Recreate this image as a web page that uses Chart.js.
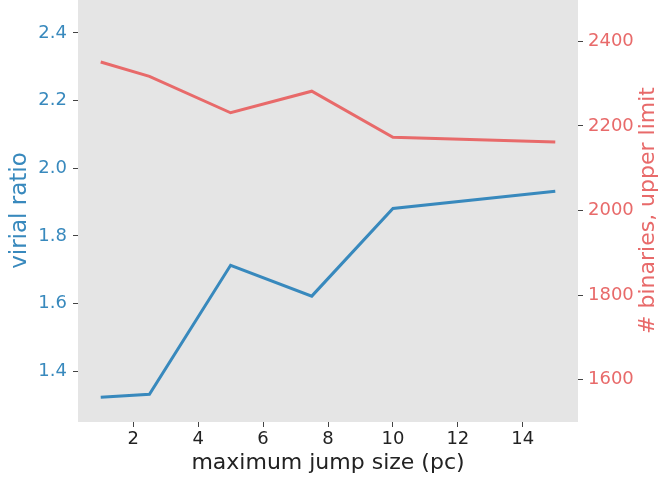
<!DOCTYPE html>
<html>
<head>
<meta charset="utf-8">
<script src="https://cdn.jsdelivr.net/npm/chart.js@4"></script>
<style>
  html, body { margin: 0; padding: 0; background: #fff; overflow: hidden; }
  #wrap { position: relative; width: 659px; height: 483px; overflow: hidden; }
  #chart { position: absolute; left: 0; top: -20px; }
</style>
</head>
<body>
<div id="wrap"><canvas id="chart" width="659" height="503"></canvas></div>
<script>
// values
const jumpSize = [1, 2.5, 5, 7.5, 10, 15];
const virialRatio = [1.323, 1.332, 1.713, 1.622, 1.881, 1.932];
const binariesUpper = [2351, 2317, 2231, 2282, 2173, 2162];

const xTicks = [2, 4, 6, 8, 10, 12, 14];
const virialTicks = [1.4, 1.6, 1.8, 2.0, 2.2, 2.4];
const binaryTicks = [1600, 1800, 2000, 2200, 2400];

const blue = '#3889BD';
const red = '#E86A6A';
const font = "'DejaVu Sans', sans-serif";

const plotBg = {
    id: 'plotBg',
    beforeDraw(chart) {
        const { ctx, chartArea: a } = chart;
        ctx.save();
        ctx.fillStyle = '#E5E5E5';
        ctx.fillRect(a.left, a.top, a.right - a.left, a.bottom - a.top);
        ctx.restore();
    }
};

// right axis title reads bottom to top, like matplotlib
const rightTitle = {
    id: 'rightTitle',
    afterDraw(chart) {
        const { ctx, chartArea: a } = chart;
        const s = chart.scales.y2;
        ctx.save();
        ctx.translate(s.right - 11, (a.top + a.bottom) / 2);
        ctx.rotate(-Math.PI / 2);
        ctx.fillStyle = red;
        ctx.font = '22px ' + font;
        ctx.textAlign = 'center';
        ctx.textBaseline = 'middle';
        ctx.fillText('# binaries, upper limit', 0, 0);
        ctx.restore();
    }
};

const setTicks = list => scale => {
    scale.ticks = list.map(v => ({ value: v }));
};

new Chart(document.getElementById('chart').getContext('2d'), {
    type: 'line',
    data: {
        datasets: [{
            label: 'virial ratio',
            data: jumpSize.map((x, i) => ({ x: x, y: virialRatio[i] })),
            borderColor: blue,
            borderWidth: 3,
            pointRadius: 0,
            tension: 0,
            yAxisID: 'y'
        }, {
            label: '# binaries, upper limit',
            data: jumpSize.map((x, i) => ({ x: x, y: binariesUpper[i] })),
            borderColor: red,
            borderWidth: 3,
            pointRadius: 0,
            tension: 0,
            yAxisID: 'y2'
        }]
    },
    options: {
        responsive: false,
        animation: false,
        layout: { padding: { top: 19, left: 0, right: 0, bottom: 0 } },
        plugins: { legend: { display: false }, tooltip: { enabled: false } },
        scales: {
            x: {
                type: 'linear',
                min: 0.3,
                max: 15.7,
                afterBuildTicks: setTicks(xTicks),
                afterFit: s => { s.height = 61; },
                border: { display: false },
                grid: { drawOnChartArea: false, tickLength: 5, tickColor: '#444' },
                ticks: { color: '#222', font: { family: font, size: 18 }, padding: 2, maxRotation: 0 },
                title: {
                    display: true,
                    text: 'maximum jump size (pc)',
                    color: '#222',
                    font: { family: font, size: 22, lineHeight: 1 },
                    padding: { bottom: 9, top: 0 }
                }
            },
            y: {
                position: 'left',
                min: 1.25,
                max: 2.5,
                afterBuildTicks: setTicks(virialTicks),
                afterFit: s => { s.width = 78; },
                border: { display: false },
                grid: { drawOnChartArea: false, tickLength: 5, tickColor: '#444' },
                ticks: {
                    color: blue, font: { family: font, size: 18 }, padding: 6,
                    callback: v => v.toFixed(1)
                },
                title: {
                    display: true,
                    text: 'virial ratio',
                    color: blue,
                    font: { family: font, size: 23, lineHeight: 1 },
                    padding: { top: 9, bottom: 0 }
                }
            },
            y2: {
                position: 'right',
                min: 1500,
                max: 2500,
                afterBuildTicks: setTicks(binaryTicks),
                afterFit: s => { s.width = 81; },
                border: { display: false },
                grid: { drawOnChartArea: false, tickLength: 5, tickColor: '#444' },
                ticks: {
                    color: red, font: { family: font, size: 18 }, padding: 5,
                    callback: v => String(v)
                },
                title: { display: false }
            }
        }
    },
    plugins: [plotBg, rightTitle]
});
</script>
</body>
</html>
